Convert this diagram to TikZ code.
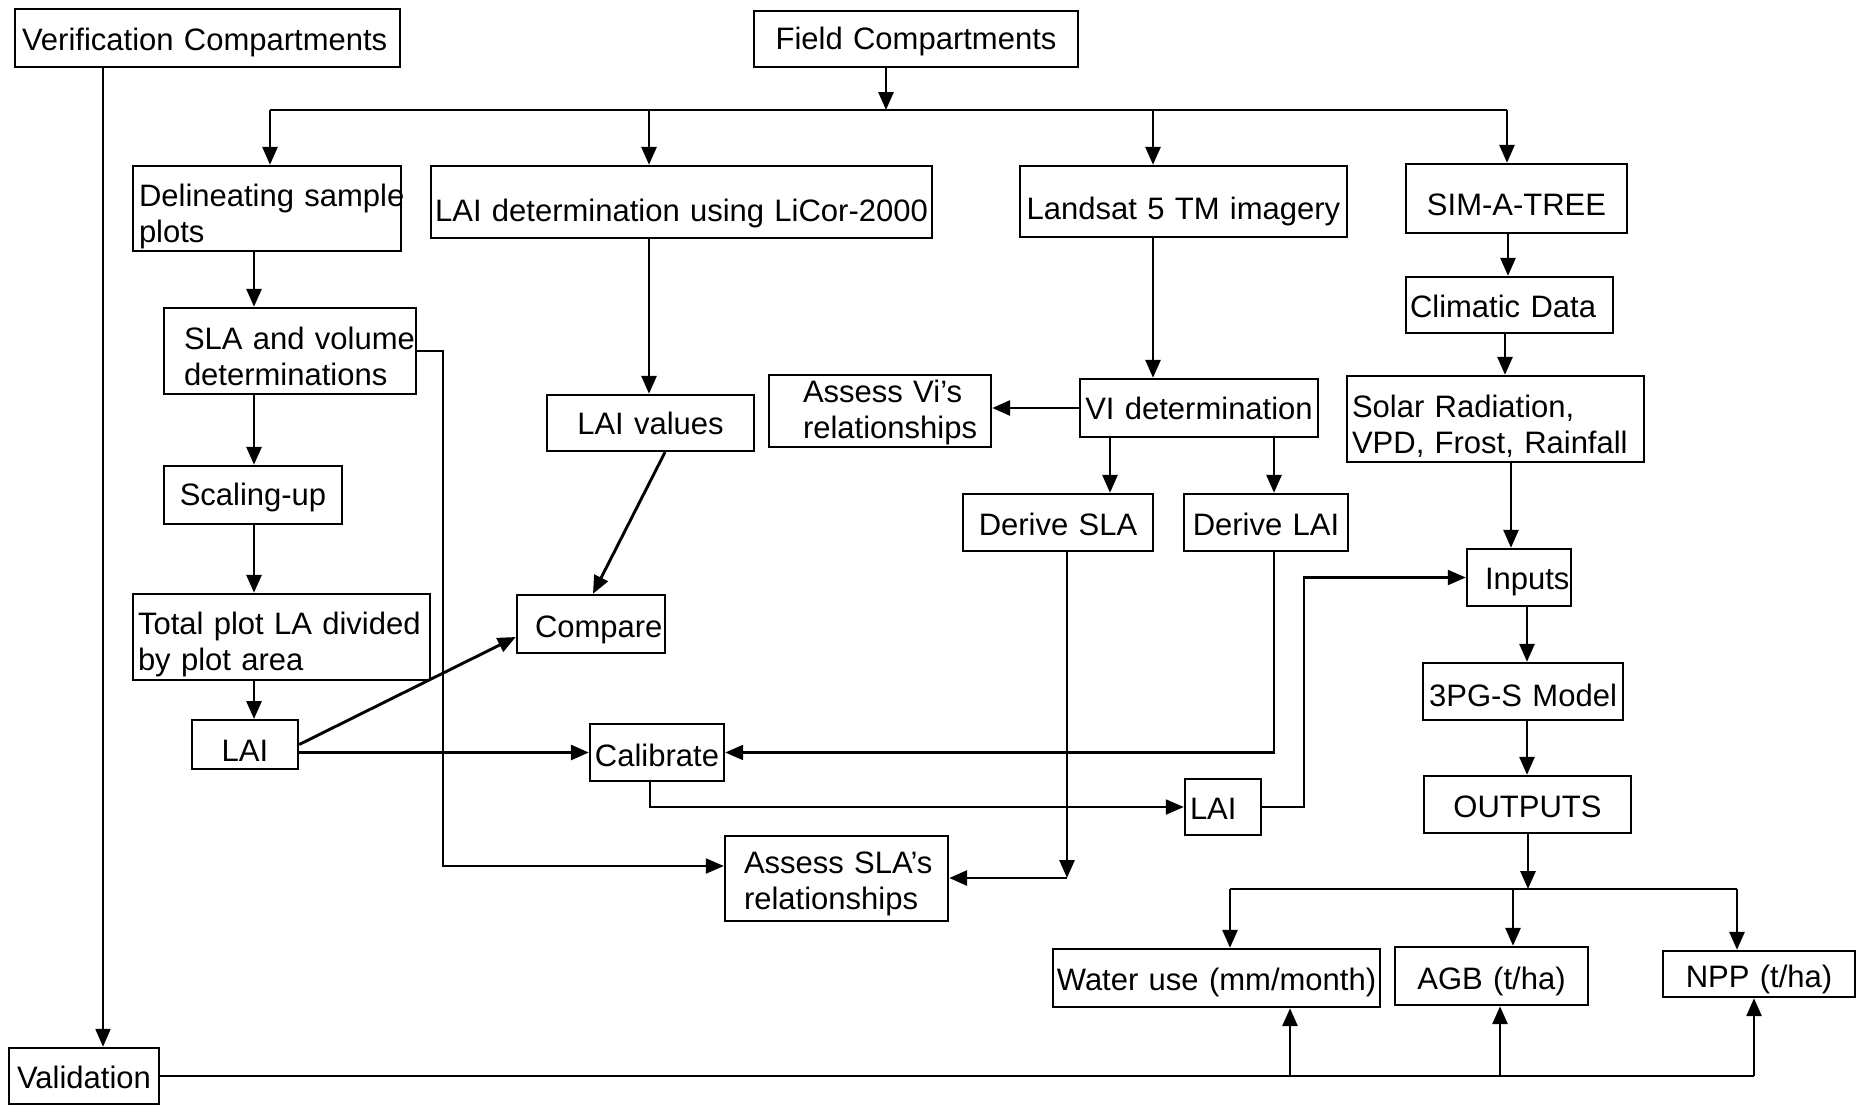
\documentclass[tikz,border=0pt]{standalone}
\usepackage{fontspec}
\setmainfont{Liberation Sans}
\usetikzlibrary{arrows.meta}
\tikzset{
  box/.style={draw, line width=2.4pt, inner ysep=0pt, font=\fontsize{31}{36}\selectfont, anchor=center},
  ln/.style={draw, line width=2.9pt},
  thinln/.style={draw, line width=2.1pt},
  arr/.style={draw, line width=2.9pt, -{Triangle[length=18pt,width=15pt]}},
  thinarr/.style={draw, line width=2.1pt, -{Triangle[length=18pt,width=15pt]}}
}
\newcommand\bx[9]{%
  \pgfmathsetmacro\bxw{#4-#2-2*#6}%
  \pgfmathsetmacro\bxh{#5-#3}%
  \pgfmathsetmacro\bxt{24+2*#9}%
  \node[box, inner xsep=#6pt, text width=\bxw pt, minimum height=\bxh pt, align=#7] (#1) at ({(#2+#4)/2},{(#3+#5)/2}) {\rule{0pt}{\bxt pt}#8\rule[-7pt]{0pt}{7pt}};}
\begin{document}
\begin{tikzpicture}[x=1pt,y=-1pt]
\fill[white] (0,0) rectangle (1858,1106);
\useasboundingbox (0,0) rectangle (1858,1106);
% boxes
\bx{verif}{15}{9}{400}{67}{7}{left}{Verification Compartments}{3.5}
\bx{field}{754}{11}{1078}{67}{4}{center}{Field Compartments}{2.4}
\bx{delin}{133}{166}{401}{251}{6}{left}{\mbox{Delineating sample}\\plots}{7}
\bx{laidet}{431}{166}{932}{238}{2}{center}{\mbox{LAI determination using LiCor-2000}}{10.7}
\bx{landsat}{1020}{166}{1347}{237}{4}{center}{Landsat 5 TM imagery}{9.5}
\bx{sim}{1406}{164}{1627}{233}{4}{center}{SIM-A-TREE}{8.8}
\bx{climatic}{1406}{277}{1613}{333}{4}{left}{Climatic Data}{4}
\bx{solar}{1347}{376}{1644}{462}{5}{left}{Solar Radiation,\\VPD, Frost, Rainfall}{7.5}
\bx{sla}{164}{308}{416}{394}{20}{left}{\mbox{SLA and volume}\\determinations}{7.5}
\bx{scaling}{164}{466}{342}{524}{4}{center}{Scaling-up}{2.4}
\bx{total}{133}{594}{430}{680}{5}{left}{\mbox{Total plot LA divided}\\by plot area}{7}
\bx{laione}{192}{723}{298}{766}{4}{center}{LAI}{8.8}
\bx{laival}{547}{395}{754}{451}{4}{center}{LAI values}{2.8}
\bx{assessvi}{769}{375}{991}{447}{34}{left}{\mbox{Assess Vi’s}\\\mbox{relationships}}{1.2}
\bx{videt}{1080}{379}{1318}{437}{2}{center}{\mbox{VI determination}}{2.8}
\bx{dsla}{963}{494}{1153}{551}{4}{center}{Derive SLA}{4}
\bx{dlai}{1184}{494}{1348}{551}{4}{center}{Derive LAI}{4}
\bx{inputs}{1467}{549}{1571}{606}{18}{left}{\mbox{Inputs}}{3.5}
\bx{compare}{517}{595}{665}{653}{18}{left}{\mbox{Compare}}{4.7}
\bx{tpg}{1423}{663}{1623}{720}{3}{center}{3PG-S Model}{6.3}
\bx{calib}{590}{724}{724}{781}{2}{center}{\mbox{Calibrate}}{5.2}
\bx{laitwo}{1185}{779}{1261}{835}{5}{left}{LAI}{4}
\bx{outputs}{1424}{776}{1631}{833}{4}{center}{OUTPUTS}{4}
\bx{assesssla}{725}{836}{948}{921}{19}{left}{\mbox{Assess SLA’s}\\\mbox{relationships}}{4.7}
\bx{water}{1053}{949}{1380}{1007}{2}{center}{\mbox{Water use (mm/month)}}{3.5}
\bx{agb}{1395}{947}{1588}{1005}{4}{center}{AGB (t/ha)}{4.7}
\bx{npp}{1663}{951}{1855}{997}{4}{center}{NPP (t/ha)}{4.7}
\bx{valid}{9}{1048}{159}{1104}{2}{center}{Validation}{4}
% helper coordinates
\coordinate (xv) at (103,0);
\coordinate (bus1) at (886,110);
\coordinate (busL) at (270,110);
\coordinate (bus2) at (649,110);
\coordinate (bus3) at (1153,110);
\coordinate (busR) at (1507,110);
\coordinate (xa) at (254,0);
\coordinate (xb) at (1110,0);
\coordinate (xc) at (1274,0);
\coordinate (xd) at (1508,0);
\coordinate (xe) at (1505,0);
\coordinate (xf) at (1511,0);
\coordinate (xg) at (1527,0);
\coordinate (xlc1) at (665,0);
\coordinate (xlc2) at (593,0);
\coordinate (xcal) at (650,0);
\coordinate (xin) at (1304,0);
\coordinate (p1) at (443,866);
\coordinate (p2) at (1067,878);
\coordinate (ob) at (1528,889);
\coordinate (obL) at (1230,889);
\coordinate (obM) at (1513,889);
\coordinate (obR) at (1737,889);
\coordinate (v1) at (1290,0);
\coordinate (v2) at (1500,0);
\coordinate (v3) at (1754,1078);
% connectors
\draw[thinarr] (verif.south -| xv) -- (valid.north -| xv);
\draw[arr] (field.south -| bus1) -- (bus1);
\draw[ln] (busL) -- (busR);
\draw[arr] (busL) -- (delin.north -| busL);
\draw[arr] (bus2) -- (laidet.north -| bus2);
\draw[arr] (bus3) -- (landsat.north -| bus3);
\draw[arr] (busR) -- (sim.north -| busR);
\draw[arr] (delin.south -| xa) -- (sla.north -| xa);
\draw[arr] (sla.south -| xa) -- (scaling.north -| xa);
\draw[arr] (scaling.south -| xa) -- (total.north -| xa);
\draw[arr] (total.south -| xa) -- (laione.north -| xa);
\draw[arr] (laidet.south -| bus2) -- (laival.north -| bus2);
\draw[arr] (landsat.south -| bus3) -- (videt.north -| bus3);
\draw[arr] (videt.west) -- (assessvi.east |- videt.west);
\draw[arr] (videt.south -| xb) -- (dsla.north -| xb);
\draw[arr] (videt.south -| xc) -- (dlai.north -| xc);
\draw[arr] (sim.south -| xd) -- (climatic.north -| xd);
\draw[arr] (climatic.south -| xe) -- (solar.north -| xe);
\draw[arr] (solar.south -| xf) -- (inputs.north -| xf);
\draw[arr] (inputs.south -| xg) -- (tpg.north -| xg);
\draw[arr] (tpg.south -| xg) -- (outputs.north -| xg);
\draw[arr] (laival.south -| xlc1) -- (compare.north -| xlc2);
\draw[arr] (laione.east) -- ([yshift=-13pt]compare.west);
\draw[arr] (laione.east |- calib.west) -- (calib.west);
\draw[thinarr] (dlai.south -| xc) |- (calib.east);
\draw[thinarr] (calib.south -| xcal) |- (laitwo.west);
\draw[thinarr] (laitwo.east) -- (laitwo.east -| xin) -- (inputs.west -| xin) -- (inputs.west);
\draw[thinarr] (sla.east) -| (p1) -- (assesssla.west |- p1);
\draw[arr] (dsla.south -| p2) -- (p2);
\draw[arr] (p2) -- (assesssla.east |- p2);
\draw[arr] (outputs.south -| ob) -- (ob);
\draw[ln] (obL) -- (obR);
\draw[arr] (obL) -- (water.north -| obL);
\draw[arr] (obM) -- (agb.north -| obM);
\draw[arr] (obR) -- (npp.north -| obR);
\draw[thinln] (valid.east) -- (valid.east -| v3);
\draw[arr] (valid.east -| v1) -- (water.south -| v1);
\draw[arr] (valid.east -| v2) -- (agb.south -| v2);
\draw[arr] (valid.east -| v3) -- (npp.south -| v3);
\end{tikzpicture}
\end{document}
